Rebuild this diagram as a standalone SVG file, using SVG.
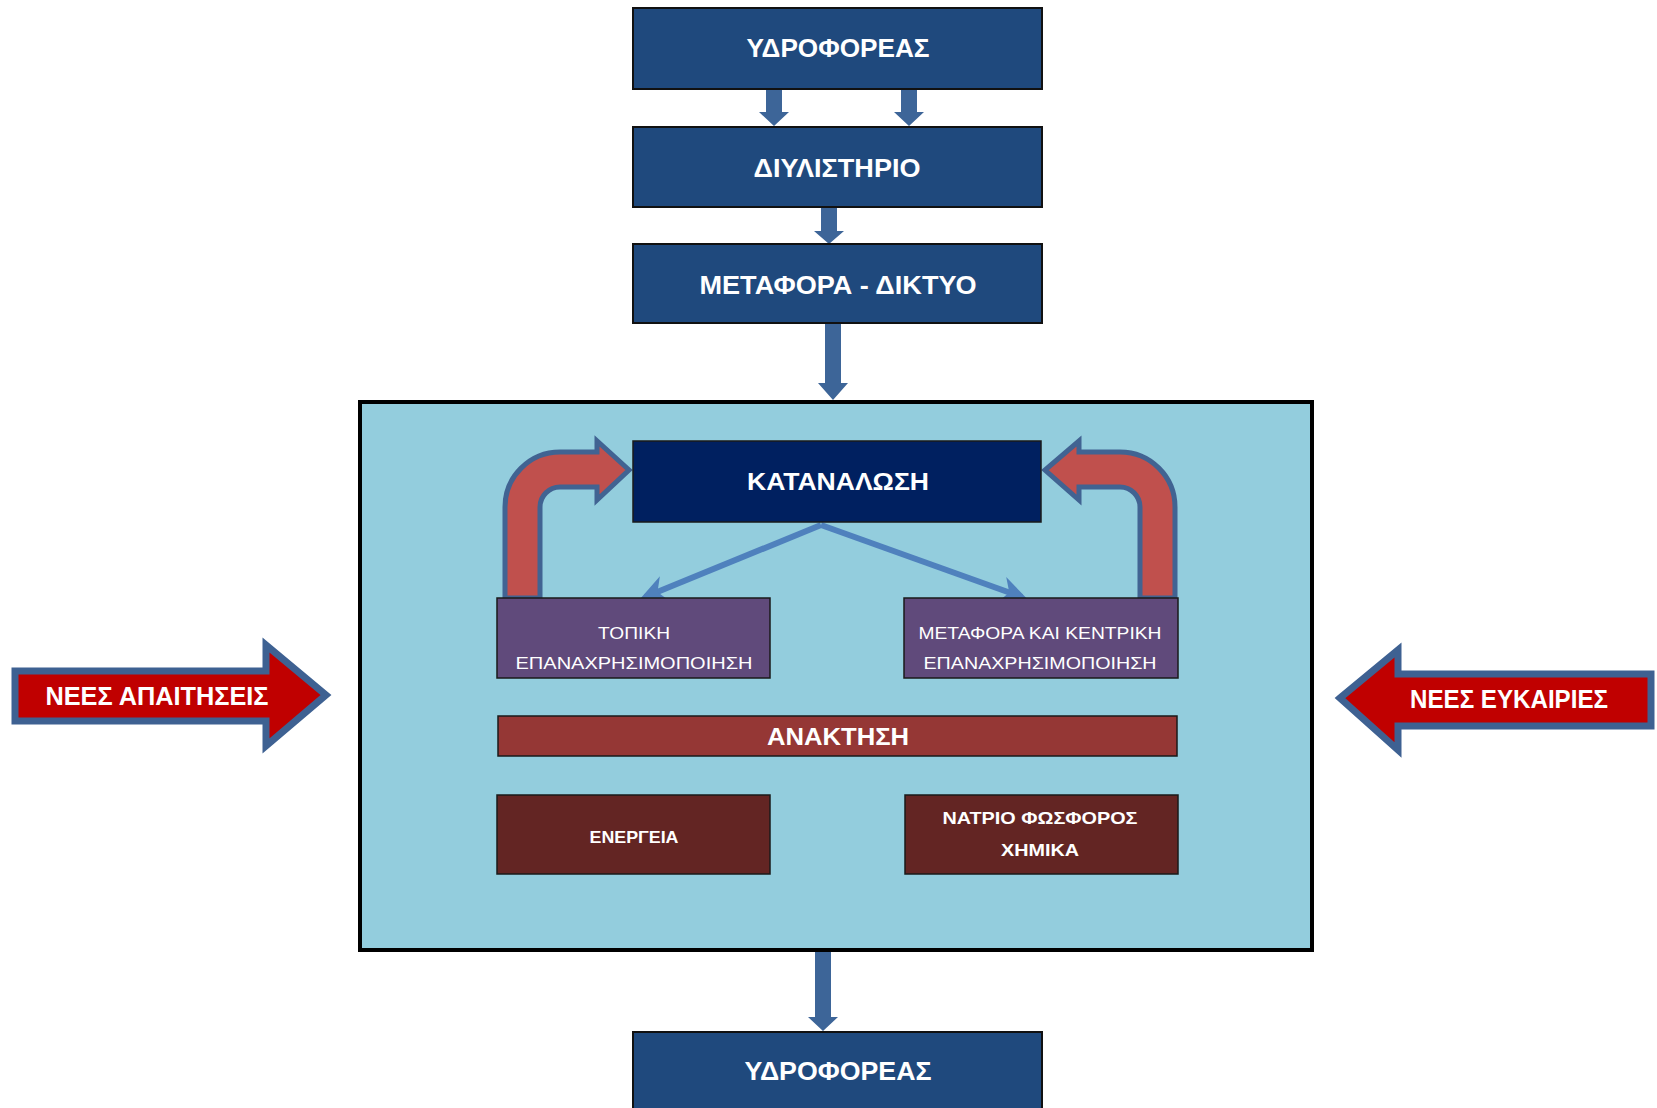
<svg xmlns="http://www.w3.org/2000/svg" width="1657" height="1108" viewBox="0 0 1657 1108">
<style>
text{font-family:"Liberation Sans","DejaVu Sans",sans-serif;fill:#fff;text-anchor:middle}
.b{font-weight:bold}
.top{fill:#1F497D;stroke:#111;stroke-width:2}
.conn{fill:#3D6598}
.diag{stroke:#4F81BD;stroke-width:6;fill:none}
.bent{fill:#C0504D;stroke:#416392;stroke-width:5;stroke-linejoin:miter}
.big{fill:#C00000;stroke:#3E6192;stroke-width:7;stroke-linejoin:miter}
.inner{stroke:#1a1a1a;stroke-width:1.5}
</style>
<defs>
<marker id="ah" viewBox="0 0 10 10" refX="8" refY="5" markerWidth="4.5" markerHeight="4.5" orient="auto" markerUnits="strokeWidth">
<path d="M0,0 L10,5 L0,10 L3,5 Z" fill="#4F81BD"/>
</marker>
</defs>
<rect width="1657" height="1108" fill="#fff"/>

<g id="main-box"><rect x="360" y="402" width="952" height="548" fill="#93CDDD" stroke="#000" stroke-width="4"/></g>

<g id="connectors">
<polygon class="conn" points="766,89 782,89 782,112 789,112 774,126 759,112 766,112"/>
<polygon class="conn" points="901,89 917,89 917,112 924,112 909,126 894,112 901,112"/>
<polygon class="conn" points="821,207 837,207 837,231 844,231 829,244 814,231 821,231"/>
<polygon class="conn" points="825,323 841,323 841,383 848,383 833,400 818,383 825,383"/>
<polygon class="conn" points="815,952 831,952 831,1017 838,1017 823,1031 808,1017 815,1017"/>
<line class="diag" x1="821" y1="525" x2="645" y2="597" marker-end="url(#ah)"/>
<line class="diag" x1="821" y1="525" x2="1022" y2="597" marker-end="url(#ah)"/>
<path class="bent" d="M505,598 L505,507 A55,55 0 0 1 560,452 L597,452 L597,441 L629,470 L597,500 L597,487 L560,487 A20,20 0 0 0 540,507 L540,598 Z"/>
<path class="bent" d="M1175,598 L1175,507 A55,55 0 0 0 1120,452 L1079,452 L1079,441 L1045,470 L1079,500 L1079,487 L1120,487 A20,20 0 0 1 1140,507 L1140,598 Z"/>
</g>

<g id="n-ydroforeas-top"><rect class="top" x="633" y="8" width="409" height="81"/><text class="b" x="838" y="57" font-size="25" textLength="183" lengthAdjust="spacingAndGlyphs">ΥΔΡΟΦΟΡΕΑΣ</text></g>
<g id="n-diylistirio"><rect class="top" x="633" y="127" width="409" height="80"/><text class="b" x="837" y="177" font-size="25" textLength="167" lengthAdjust="spacingAndGlyphs">ΔΙΥΛΙΣΤΗΡΙΟ</text></g>
<g id="n-metafora-diktyo"><rect class="top" x="633" y="244" width="409" height="79"/><text class="b" x="838" y="294" font-size="25" textLength="277" lengthAdjust="spacingAndGlyphs">ΜΕΤΑΦΟΡΑ - ΔΙΚΤΥΟ</text></g>
<g id="n-ydroforeas-bottom"><rect class="top" x="633" y="1032" width="409" height="90"/><text class="b" x="838" y="1080" font-size="25" textLength="187" lengthAdjust="spacingAndGlyphs">ΥΔΡΟΦΟΡΕΑΣ</text></g>

<g id="n-katanalosi"><rect class="inner" x="633" y="441" width="408" height="81" fill="#002060"/><text class="b" x="838" y="490" font-size="24" textLength="182" lengthAdjust="spacingAndGlyphs">ΚΑΤΑΝΑΛΩΣΗ</text></g>

<g id="n-topiki"><rect class="inner" x="497" y="598" width="273" height="80" fill="#604A7B"/><text x="634" y="639" font-size="17" textLength="72" lengthAdjust="spacingAndGlyphs">ΤΟΠΙΚΗ</text><text x="634" y="669" font-size="17" textLength="237" lengthAdjust="spacingAndGlyphs">ΕΠΑΝΑΧΡΗΣΙΜΟΠΟΙΗΣΗ</text></g>
<g id="n-kentriki"><rect class="inner" x="904" y="598" width="274" height="80" fill="#604A7B"/><text x="1040" y="639" font-size="17" textLength="243" lengthAdjust="spacingAndGlyphs">ΜΕΤΑΦΟΡΑ ΚΑΙ ΚΕΝΤΡΙΚΗ</text><text x="1040" y="669" font-size="17" textLength="233" lengthAdjust="spacingAndGlyphs">ΕΠΑΝΑΧΡΗΣΙΜΟΠΟΙΗΣΗ</text></g>

<g id="n-anaktisi"><rect class="inner" x="498" y="716" width="679" height="40" fill="#953735"/><text class="b" x="838" y="745" font-size="24" textLength="142" lengthAdjust="spacingAndGlyphs">ΑΝΑΚΤΗΣΗ</text></g>

<g id="n-energeia"><rect class="inner" x="497" y="795" width="273" height="79" fill="#632523"/><text class="b" x="634" y="843" font-size="17" textLength="89" lengthAdjust="spacingAndGlyphs">ΕΝΕΡΓΕΙΑ</text></g>
<g id="n-natrio"><rect class="inner" x="905" y="795" width="273" height="79" fill="#632523"/><text class="b" x="1040" y="824" font-size="17" textLength="195" lengthAdjust="spacingAndGlyphs">ΝΑΤΡΙΟ ΦΩΣΦΟΡΟΣ</text><text class="b" x="1040" y="856" font-size="17" textLength="78" lengthAdjust="spacingAndGlyphs">ΧΗΜΙΚΑ</text></g>

<g id="n-nees-apaitiseis"><path class="big" d="M15,671 L266,671 L266,645 L326,695 L266,746 L266,721 L15,721 Z"/><text class="b" x="157" y="705" font-size="26" textLength="223" lengthAdjust="spacingAndGlyphs">ΝΕΕΣ ΑΠΑΙΤΗΣΕΙΣ</text></g>
<g id="n-nees-eykairies"><path class="big" d="M1340,698 L1398,650 L1398,674 L1651,674 L1651,726 L1398,726 L1398,750 Z"/><text class="b" x="1509" y="708" font-size="26" textLength="198" lengthAdjust="spacingAndGlyphs">ΝΕΕΣ ΕΥΚΑΙΡΙΕΣ</text></g>
</svg>
